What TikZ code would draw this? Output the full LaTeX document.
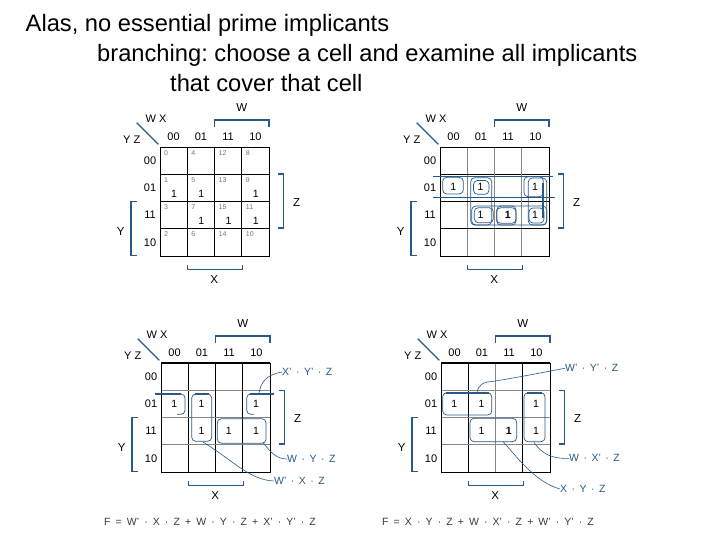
\documentclass[tikz,border=0pt]{standalone}
\usepackage{fontspec}
\setmainfont{Liberation Sans}
\frenchspacing
\definecolor{kblue}{RGB}{40,90,135}
\definecolor{knum}{RGB}{95,120,150}
\definecolor{kgray}{RGB}{135,135,135}
\definecolor{ftext}{RGB}{60,60,60}
\newcommand\ldot{\hspace{4.5pt}·\hspace{4.5pt}}
\newcommand\kdot{\hspace{5.1pt}·\hspace{5.1pt}}
\newcommand\kplus{\hspace{5.1pt}+\hspace{5.1pt}}
\newcommand\keq{\hspace{5.1pt}=\hspace{5.1pt}}
\tikzset{
  titletext/.style={anchor=base west, inner sep=0pt, font=\fontsize{23.7}{26}\selectfont},
  lab/.style={inner sep=0pt, font=\fontsize{11}{12}\selectfont},
  varlab/.style={inner sep=0pt, font=\fontsize{11.5}{12}\selectfont},
  brk/.style={draw=kblue, line width=1.5pt},
  diagl/.style={draw=kblue, line width=1.3pt},
  gline/.style={draw=black, line width=0.8pt},
  gthin/.style={draw=kgray, line width=0.6pt},
  cnum/.style={anchor=north west, inner sep=0pt, text=knum, font=\fontsize{7}{8}\selectfont},
  one/.style={inner sep=0pt, font=\fontsize{10.5}{12}\selectfont},
  bone/.style={inner sep=0pt, font=\fontsize{10.5}{12}\selectfont\bfseries},
  loopl/.style={draw=kblue, line width=0.7pt, rounded corners=4pt},
  barl/.style={draw=kblue, line width=2pt},
  impl/.style={anchor=west, inner sep=0pt, text=kblue, font=\fontsize{10.5}{12}\selectfont},
  leader/.style={draw=kblue, line width=0.6pt},
  fmla/.style={anchor=west, inner sep=0pt, text=ftext, font=\fontsize{10.5}{12}\selectfont},
}
\newcommand\kframe{%
  \node[lab] (wx) at (-4,-28.7) {W X};
  \node[lab] (yz) at (-28.3,-7.7) {Y Z};
  \coordinate (d1) at (-23.3,-24.3); \coordinate (d2) at (-1.7,-2.7);
  \draw[diagl] (d1) -- (d2);
  \node[lab] (h0) at (13.6,-10.3) {00};
  \node[lab] (h1) at (40.9,-10.3) {01};
  \node[lab] (h2) at (68.1,-10.3) {11};
  \node[lab] (h3) at (95.4,-10.3) {10};
  \node[lab] (v0) at (-10,13.6) {00};
  \node[lab] (v1) at (-10,40.9) {01};
  \node[lab] (v2) at (-10,68.1) {11};
  \node[lab] (v3) at (-10,95.4) {10};
  \node[varlab] (lw) at (81.7,-39) {W};
  \coordinate (wa) at (54.5,-20.3); \coordinate (wb) at (54.5,-27);
  \coordinate (wc) at (109,-27); \coordinate (wd) at (109,-20.3);
  \draw[brk] (wa) -- (wb) -- (wc) -- (wd);
  \node[varlab] (lz) at (136.7,55.3) {Z};
  \coordinate (za) at (118,27.25); \coordinate (zb) at (123.3,27.25);
  \coordinate (zc) at (123.3,81); \coordinate (zd) at (118,81);
  \draw[brk] (za) -- (zb) -- (zc) -- (zd);
  \node[varlab] (ly) at (-39.3,84.7) {Y};
  \coordinate (ya) at (-22.7,54.3); \coordinate (yb) at (-29,54.3);
  \coordinate (yc) at (-29,108.5); \coordinate (yd) at (-22.7,108.5);
  \draw[brk] (ya) -- (yb) -- (yc) -- (yd);
  \node[varlab] (lx) at (54.3,132.3) {X};
  \coordinate (xa) at (27.7,118); \coordinate (xb) at (27.7,122.3);
  \coordinate (xc) at (82.7,122.3); \coordinate (xd) at (82.7,118);
  \draw[brk] (xa) -- (xb) -- (xc) -- (xd);
}
% #1 inner vertical style, #2 inner horizontal style
\newcommand\kgrid[2]{%
  \foreach \p in {27.25,54.5,81.75} {
    \draw[#1] (\p,0) -- (\p,109);
    \draw[#2] (0,\p) -- (109,\p);
  }
  \draw[gline] (0,0) rectangle (109,109);
}
\begin{document}
\begin{tikzpicture}[x=1pt,y=-1pt]
\useasboundingbox[fill=white] (0,0) rectangle (720,540);

\node[titletext] (t1) at (25.5,32) {Alas, no essential prime implicants};
\node[titletext] (t2) at (97,62) {branching: choose a cell and examine all implicants};
\node[titletext] (t3) at (170,92) {that cover that cell};

% ---------------- top-left map ----------------
\begin{scope}[shift={(160,147)}, name prefix=tl-]
  \kgrid{gline}{gline}
  \kframe
  \foreach \cx/\wv in {0/0,1/4,2/12,3/8} {
    \foreach \ry/\yv in {0/0,1/1,2/3,3/2} {
      \pgfmathtruncatemacro\nn{\wv+\yv}
      \node[cnum] (n\nn) at ({\cx*27.25+4},{\ry*27.25+3}) {\nn};
    }
  }
  \foreach \cx/\ry/\nm in {0/1/1,1/1/5,3/1/9,1/2/7,2/2/15,3/2/11} {
    \node[one] (o\nm) at ({\cx*27.25+14},{\ry*27.25+19.5}) {1};
  }
\end{scope}

% ---------------- top-right map ----------------
\begin{scope}[shift={(440,147)}, name prefix=tr-]
  \kgrid{gthin}{gline}
  \kframe
  \foreach \cx/\ry/\nm in {0/1/1,1/1/5,3/1/9,1/2/7,3/2/11} {
    \node[one] (o\nm) at ({\cx*27.25+13.2},{\ry*27.25+13}) {1};
  }
  \node[bone] (o15) at ({2*27.25+13.2},{2*27.25+13}) {1};
  % wrap lines for X'Y'Z
  \draw[kblue, line width=0.7pt] (-6.7,29.7) -- (113.3,29.7);
  \draw[kblue, line width=0.7pt] (-6.7,50.7) -- (115,50.7);
  % W'Y'Z pieces
  \draw[loopl] (2.7,30.3) rectangle (23.3,47);
  \draw[loopl] (33.5,33.5) rectangle (49,47.3);
  % W'XZ tall box
  \draw[loopl] (30.7,30.7) rectangle (51.7,78);
  % XYZ / WYZ row boxes
  \draw[loopl] (34.3,60.7) rectangle (53.3,75.7);
  \draw[loopl] (56.7,60.7) rectangle (76,76.3);
  \draw[loopl] (31.7,59) rectangle (76,78);
  \draw[loopl] (56.7,59) rectangle (106.7,78);
  % WX'Z column boxes
  \draw[loopl] (84,29.7) rectangle (103.3,49.7);
  \draw[loopl] (88.3,31) rectangle (106.7,78);
  \draw[loopl] (89,61) rectangle (104,76);
  \draw[kblue, line width=2pt] (102.7,36.3) -- (102.7,71.3);
\end{scope}

% ---------------- bottom-left map ----------------
\begin{scope}[shift={(161,363)}, name prefix=bl-]
  \kgrid{gline}{gthin}
  \draw[line width=1.6pt] (0,0) -- (109,0);
  \kframe
  \foreach \cx/\ry/\nm in {0/1/1,1/1/5,3/1/9,1/2/7,2/2/15,3/2/11} {
    \node[one] (o\nm) at ({\cx*27.25+13.2},{\ry*27.25+13.5}) {1};
  }
  % X'Y'Z (wrap)
  \draw[loopl] (-6,31) -- (24,31) -- (24,51.3) -- (16,51.3);
  \draw[barl] (-6,31) -- (20,31);
  \draw[loopl] (113,31) -- (85.7,31) -- (85.7,51.3) -- (93,51.3);
  \draw[barl] (113,31) -- (89,31);
  % W'XZ
  \draw[loopl] (30.7,31) rectangle (50.7,78.3);
  \draw[barl] (34,31) -- (47.5,31);
  % WYZ
  \draw[loopl] (56.3,55.7) rectangle (105,80.3);
\end{scope}
\node[impl] (bl-l1) at (282,372) {X’\ldot Y’\ldot Z};
\coordinate (bl-s1) at (259,393);
\draw[leader] (bl-s1) .. controls (261,382) and (266,375) .. (bl-l1.west);
\node[impl] (bl-l2) at (287,459) {W\ldot Y\ldot Z};
\coordinate (bl-s2) at (263,442.5);
\draw[leader] (bl-s2) .. controls (271,453) and (277,459) .. (bl-l2.west);
\node[impl] (bl-l3) at (274,481) {W’\ldot X\ldot Z};
\coordinate (bl-s3) at (203,442);
\draw[leader] (bl-s3) .. controls (235,462) and (250,480) .. (bl-l3.west);

% ---------------- bottom-right map ----------------
\begin{scope}[shift={(441,363)}, name prefix=br-]
  \kgrid{gline}{gthin}
  \draw[gthin] (54.5,0) -- (54.5,109);
  \draw[line width=1.6pt] (0,0) -- (109,0);
  \kframe
  \foreach \cx/\ry/\nm in {0/1/1,1/1/5,3/1/9,1/2/7,3/2/11} {
    \node[one] (o\nm) at ({\cx*27.25+13.2},{\ry*27.25+13.5}) {1};
  }
  \node[bone] (o15) at ({2*27.25+13.2},{2*27.25+13.5}) {1};
  % W'Y'Z
  \draw[loopl] (1.7,29.7) rectangle (50.7,52);
  \draw[barl] (4.5,29.7) -- (47.5,29.7);
  % XYZ
  \draw[loopl] (29,55.3) rectangle (75.7,78.7);
  % WX'Z
  \draw[loopl] (83,29.7) rectangle (104,78.7);
  \draw[barl] (86,29.7) -- (101,29.7);
\end{scope}
\node[impl] (br-l1) at (565,368.3) {W’\ldot Y’\ldot Z};
\coordinate (br-s1) at (477,393);
\coordinate (br-m1) at (492,381.5);
\draw[leader] (br-s1) .. controls (478,385) and (483,382) .. (br-m1)
  .. controls (515,378) and (545,372) .. (br-l1.west);
\node[impl] (br-l2) at (569,458.3) {W\ldot X’\ldot Z};
\coordinate (br-s2) at (534,442.5);
\draw[leader] (br-s2) .. controls (542,454) and (552,459) .. (br-l2.west);
\node[impl] (br-l3) at (560,489) {X\ldot Y\ldot Z};
\coordinate (br-s3) at (503,441.5);
\draw[leader] (br-s3) .. controls (516,456) and (535,482) .. (br-l3.west);

% ---------------- formulas ----------------
\node[fmla] (f1) at (104,522) {F\keq W’\kdot X\kdot Z\kplus W\kdot Y\kdot Z\kplus X’\kdot Y’\kdot Z};
\node[fmla] (f2) at (382,522) {F\keq X\kdot Y\kdot Z\kplus W\kdot X’\kdot Z\kplus W’\kdot Y’\kdot Z};
\end{tikzpicture}
\end{document}
